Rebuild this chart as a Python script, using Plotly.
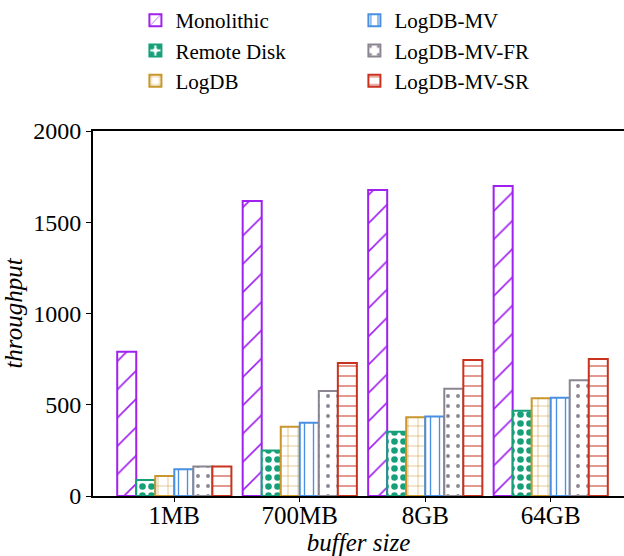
import plotly.graph_objects as go

categories = ["1MB", "700MB", "8GB", "64GB"]
series_names = ["Monolithic", "Remote Disk", "LogDB", "LogDB-MV", "LogDB-MV-FR", "LogDB-MV-SR"]
monolithic = [790, 1616, 1677, 1699]
remote_disk = [88, 250, 352, 467]
logdb = [110, 379, 431, 535]
logdb_mv = [146, 401, 435, 539]
logdb_mv_fr = [161, 576, 588, 634]
logdb_mv_sr = [162, 729, 745, 751]
y_ticks = [0, 500, 1000, 1500, 2000]

values = [monolithic, remote_disk, logdb, logdb_mv, logdb_mv_fr, logdb_mv_sr]
colors = ["#A020F0", "#16A07A", "#C8962A", "#4A90E2", "#8A8590", "#C8321E"]
shapes = ["/", ".", "+", "|", ".", "-"]
sizes = [20, 9, 10, 9, 10, 10]
solid = [0.08, 0.42, 0.1, 0.15, 0.12, 0.1]
ranks = [1, 3, 5, 2, 4, 6]

FONT = "Times New Roman, Liberation Serif, serif"
fig = go.Figure()
for name, vals, c, sh, sz, so, rk in zip(series_names, values, colors, shapes, sizes, solid, ranks):
    fig.add_trace(go.Bar(
        x=categories, y=vals, name=name, legendrank=rk,
        marker=dict(
            color="white",
            line=dict(color=c, width=2),
            pattern=dict(shape=sh, fgcolor=c, bgcolor="white", size=sz,
                         solidity=so, fillmode="replace"),
        ),
    ))

fig.update_layout(
    width=624, height=556,
    margin=dict(l=93, r=0, t=131, b=60),
    paper_bgcolor="white", plot_bgcolor="white",
    barmode="group", bargap=0.09, bargroupgap=0,
    font=dict(family=FONT, size=24, color="black"),
    legend=dict(
        orientation="h", xref="container", yref="container",
        x=0.217, y=1.0, xanchor="left", yanchor="top",
        entrywidth=174, entrywidthmode="pixels",
        font=dict(family=FONT, size=21), traceorder="normal",
        bgcolor="rgba(0,0,0,0)",
    ),
    xaxis=dict(
        range=[-0.648, 3.584], showline=True, linecolor="black", linewidth=2,
        mirror=True, ticks="outside", ticklen=4, tickcolor="black",
        showgrid=False, tickfont=dict(family=FONT, size=25),
        ticklabelstandoff=-8,
        title=dict(text="<i>buffer size</i>", font=dict(family=FONT, size=25), standoff=2),
    ),
    yaxis=dict(
        range=[0, 2000], tickvals=y_ticks, showline=True, linecolor="black",
        linewidth=2, ticks="outside", ticklen=5, tickcolor="black",
        showgrid=False, zeroline=False, tickfont=dict(family=FONT, size=24),
        title=dict(text="<i>throughput</i>", font=dict(family=FONT, size=25), standoff=4),
    ),
)

fig.write_html("out.html")
